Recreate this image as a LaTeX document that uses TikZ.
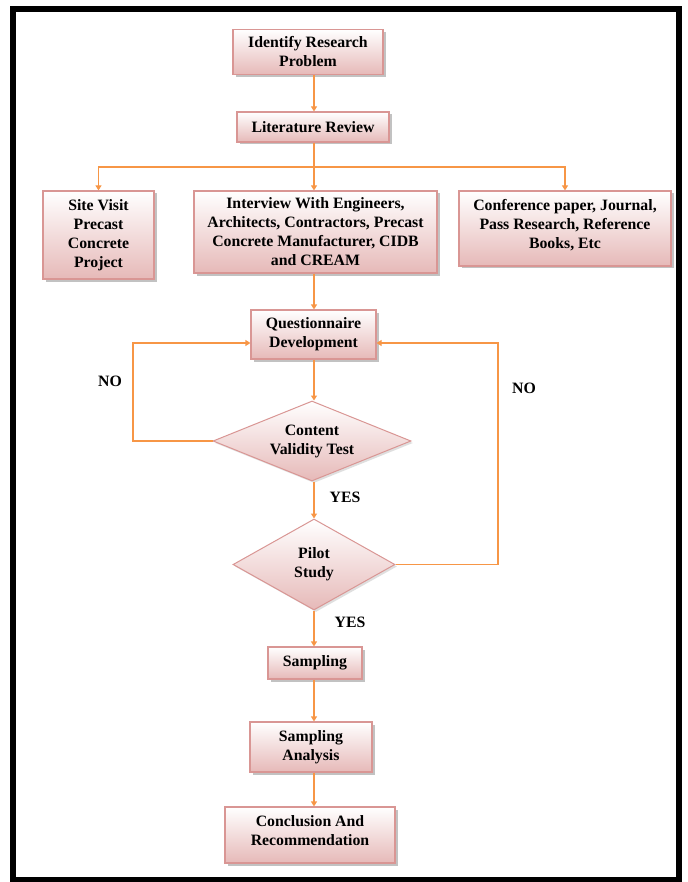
\documentclass[tikz,border=0pt]{standalone}
\usepackage{fontspec}
\setmainfont{Liberation Serif}
\usetikzlibrary{shapes.geometric,arrows.meta,shadows}
\definecolor{arrowor}{HTML}{F79646}
\definecolor{boxedge}{HTML}{D99694}
\definecolor{boxfill}{HTML}{E6B9B8}
\tikzset{
  stepbox/.style={draw=boxedge, line width=1.2pt, top color=white, bottom color=boxfill,
    drop shadow={shadow xshift=2.5pt, shadow yshift=-2.5pt, fill=black!40, opacity=0.6},
    font=\bfseries\fontsize{15.8}{19}\selectfont, align=center, inner sep=0pt},
  decide/.style={diamond, draw=boxedge, line width=1pt, top color=white, bottom color=boxfill,
    drop shadow={shadow xshift=2pt, shadow yshift=-2pt, fill=black!25, opacity=0.5},
    font=\bfseries\fontsize{15.8}{19}\selectfont, align=center, inner sep=0pt},
  arr/.style={draw=arrowor, line width=1.2pt, -{Triangle[width=6pt,length=5pt]}},
  lbl/.style={font=\bfseries\fontsize{15.8}{18}\selectfont}
}
\begin{document}
\begin{tikzpicture}[x=1pt,y=-1pt]
\useasboundingbox (0,0) rectangle (687,882);
\draw[line width=6pt] (13,9) rectangle (679,880);

\node[stepbox, minimum width=150, minimum height=45] (idp) at (308,52) {Identify Research\\Problem};
\node[stepbox, minimum width=152, minimum height=30] (lit) at (313,127) {Literature Review};
\node[stepbox, minimum width=111, minimum height=88] (site) at (98.5,235) {Site Visit\\Precast\\Concrete\\Project};
\node[stepbox, minimum width=243, minimum height=82] (int) at (315.5,232) {Interview With Engineers,\\Architects, Contractors, Precast\\Concrete Manufacturer, CIDB\\and CREAM};
\node[stepbox, minimum width=212, minimum height=75] (conf) at (565,228.5) {Conference paper, Journal,\\Pass Research, Reference\\Books, Etc\\[-10pt]};
\node[stepbox, minimum width=125, minimum height=49] (qd) at (313.5,334.5) {Questionnaire\\Development};
\node[decide, aspect=2.5, minimum width=198, minimum height=80] (cvt) at (312,441) {Content\\Validity Test};
\node[decide, aspect=1.8, minimum width=162, minimum height=91] (ps) at (314,564.5) {Pilot\\Study};
\node[stepbox, minimum width=94, minimum height=32] (samp) at (315,663) {Sampling};
\node[stepbox, minimum width=122, minimum height=50] (sa) at (311,747) {Sampling\\Analysis};
\node[stepbox, minimum width=170, minimum height=56] (conc) at (310,835) {Conclusion And\\Recommendation\\[-10pt]};

\coordinate (col) at (314,0);
\coordinate (br) at (314,167);
\coordinate (nl) at (133,343);
\coordinate (nr) at (498,343);

\draw[arr] (idp.south -| col) -- (lit.north -| col);
\draw[arr] (lit.south -| col) -- (int.north -| col);
\draw[arr] (br) -| (site.north);
\draw[arr] (br) -| (conf.north);
\draw[arr] (int.south -| col) -- (qd.north -| col);
\draw[arr] (qd.south -| col) -- (cvt.north -| col);
\draw[arr] (cvt.south -| col) -- (ps.north -| col);
\draw[arr] (ps.south -| col) -- (samp.north -| col);
\draw[arr] (samp.south -| col) -- (sa.north -| col);
\draw[arr] (sa.south -| col) -- (conc.north -| col);
\draw[arr] (cvt.west) -| (nl) -- (nl -| qd.west);
\draw[arr] (ps.east) -| (nr) -- (nr -| qd.east);

\node[lbl] (no1) at (110,381) {NO};
\node[lbl] (no2) at (524,388) {NO};
\node[lbl] (yes1) at (345,497) {YES};
\node[lbl] (yes2) at (350,622) {YES};
\end{tikzpicture}
\end{document}
